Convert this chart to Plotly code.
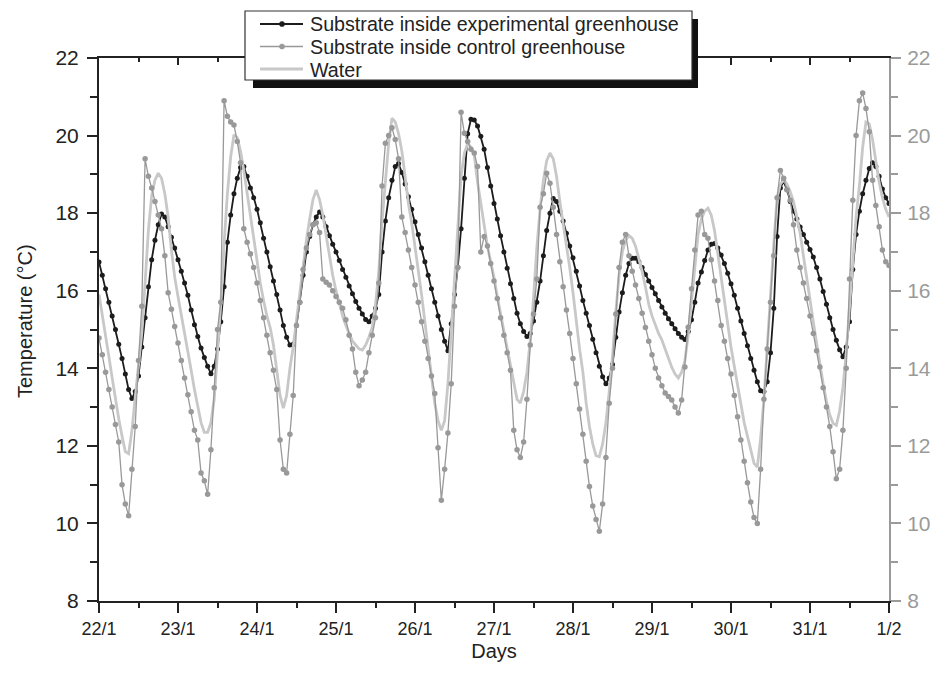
import plotly.graph_objects as go

# ---------------- data (hourly readings, °C) ----------------
day_labels = ["22/1", "23/1", "24/1", "25/1", "26/1", "27/1", "28/1", "29/1", "30/1", "31/1", "1/2"]
series_names = ["Substrate inside experimental greenhouse",
                "Substrate inside control greenhouse",
                "Water"]
sample_step_hours = 1

experimental = [
    16.74, 16.40, 16.05, 15.70, 15.35, 15.00, 14.62, 14.25, 13.85, 13.45, 13.22, 13.40, 13.80, 14.55, 15.30, 16.10, 16.80, 17.30, 17.70, 17.98, 17.90, 17.65, 17.38, 17.10,
    16.80, 16.50, 16.20, 15.88, 15.50, 15.12, 14.82, 14.52, 14.28, 14.05, 13.86, 14.05, 14.50, 15.20, 16.10, 17.25, 17.95, 18.50, 18.90, 19.18, 19.20, 18.95, 18.65, 18.40,
    18.10, 17.75, 17.35, 17.00, 16.62, 16.25, 15.90, 15.50, 15.10, 14.80, 14.60, 14.62, 15.10, 15.70, 16.40, 17.00, 17.40, 17.70, 17.90, 18.03, 17.90, 17.65, 17.42, 17.20,
    17.00, 16.78, 16.55, 16.35, 16.12, 15.92, 15.72, 15.55, 15.40, 15.26, 15.20, 15.35, 15.55, 15.90, 17.00, 17.80, 18.40, 18.85, 19.20, 19.28, 19.05, 18.75, 18.42, 18.10,
    17.78, 17.45, 17.10, 16.75, 16.40, 16.05, 15.70, 15.35, 15.00, 14.70, 14.45, 15.15, 15.90, 16.60, 17.60, 18.90, 20.05, 20.42, 20.40, 20.25, 19.98, 19.65, 19.18, 18.70,
    18.25, 17.85, 17.42, 17.00, 16.58, 16.18, 15.80, 15.42, 15.15, 14.95, 14.82, 14.90, 15.22, 15.70, 16.25, 16.90, 17.55, 18.00, 18.38, 18.30, 18.05, 17.80, 17.48, 17.15,
    16.85, 16.50, 16.12, 15.75, 15.42, 15.10, 14.75, 14.40, 14.05, 13.78, 13.60, 13.75, 14.10, 14.80, 15.45, 15.95, 16.40, 16.70, 16.84, 16.84, 16.75, 16.60, 16.42, 16.25,
    16.08, 15.92, 15.75, 15.58, 15.42, 15.28, 15.15, 15.02, 14.90, 14.80, 14.74, 14.95, 15.25, 15.70, 16.20, 16.48, 16.78, 17.05, 17.20, 17.22, 17.10, 16.92, 16.70, 16.45,
    16.18, 15.88, 15.55, 15.22, 14.90, 14.58, 14.25, 13.95, 13.65, 13.42, 13.40, 13.65, 14.40, 15.55, 17.40, 18.65, 18.82, 18.60, 18.30, 18.05, 17.85, 17.64, 17.45, 17.25,
    17.06, 16.87, 16.60, 16.30, 15.98, 15.65, 15.30, 15.00, 14.72, 14.48, 14.30, 14.55, 15.20, 16.55, 17.45, 18.05, 18.50, 18.85, 19.15, 19.30, 19.20, 18.95, 18.62, 18.40,
    18.25,
]

control = [
    14.78, 14.35, 13.90, 13.45, 13.00, 12.55, 12.10, 11.00, 10.50, 10.20, 11.40, 12.50, 14.20, 15.60, 19.40, 18.95, 18.65, 18.30, 17.95, 17.60, 16.90, 15.95, 15.52, 15.08,
    14.65, 14.20, 13.75, 13.32, 12.88, 12.40, 12.15, 11.30, 11.10, 10.75, 11.90, 13.50, 15.00, 15.70, 20.90, 20.50, 20.35, 20.27, 19.85, 19.30, 17.60, 17.25, 16.95, 16.60,
    16.20, 15.75, 15.30, 14.85, 14.40, 13.95, 13.45, 12.15, 11.40, 11.30, 12.30, 13.30, 15.10, 15.70, 16.55, 17.10, 17.45, 17.70, 17.75, 17.50, 16.30, 16.22, 16.15, 16.00,
    15.85, 15.70, 15.55, 15.25, 14.85, 14.50, 13.90, 13.55, 13.70, 13.90, 14.40, 14.85, 15.30, 16.20, 18.70, 19.80, 20.00, 20.20, 19.90, 19.40, 17.90, 17.50, 17.05, 16.60,
    16.15, 15.70, 15.20, 14.70, 14.25, 13.80, 13.35, 11.95, 10.60, 11.40, 12.33, 13.60, 15.60, 16.60, 20.60, 20.06, 19.85, 19.65, 19.55, 19.20, 17.00, 17.40, 17.15, 16.70,
    16.25, 15.80, 15.30, 14.85, 14.40, 13.95, 12.40, 11.90, 11.70, 12.10, 13.20, 14.60, 15.40, 16.30, 18.15, 18.50, 19.03, 18.77, 18.15, 17.45, 16.75, 16.10, 15.50, 14.90,
    14.25, 13.60, 12.95, 12.30, 11.60, 10.95, 10.45, 10.10, 9.80, 10.50, 11.70, 13.10, 14.00, 15.40, 16.60, 17.25, 17.45, 16.90, 16.50, 16.15, 15.80, 15.42, 15.05, 14.70,
    14.35, 14.00, 13.75, 13.55, 13.36, 13.27, 13.18, 13.00, 12.85, 13.18, 14.03, 15.06, 16.05, 17.05, 17.95, 18.05, 17.45, 17.35, 16.80, 16.25, 15.75, 15.10, 14.70, 14.25,
    13.85, 13.30, 12.75, 12.15, 11.60, 11.05, 10.55, 10.15, 10.00, 11.40, 13.20, 14.50, 15.70, 16.90, 18.40, 19.10, 18.90, 18.60, 18.33, 17.70, 17.05, 16.60, 16.20, 15.80,
    15.35, 14.90, 14.45, 14.03, 13.50, 13.00, 12.50, 11.85, 11.15, 11.40, 12.40, 14.00, 16.30, 18.33, 20.00, 20.90, 21.10, 20.70, 20.10, 18.85, 18.20, 17.65, 17.05, 16.75,
    16.65,
]

water = [
    15.90, 15.40, 14.85, 14.30, 13.75, 13.20, 12.70, 12.25, 11.85, 11.80, 12.40, 13.25, 14.05, 14.90, 16.20, 17.55, 18.45, 18.85, 19.03, 18.90, 18.50, 17.90, 17.05, 16.35,
    15.85, 15.40, 14.95, 14.45, 13.95, 13.45, 13.00, 12.60, 12.35, 12.35, 12.60, 13.20, 14.40, 15.65, 17.20, 18.50, 19.45, 20.02, 19.95, 19.60, 19.10, 18.50, 17.90, 17.30,
    16.75, 16.20, 15.75, 15.35, 15.05, 14.60, 13.95, 13.30, 12.97, 13.30, 14.00, 14.55, 15.25, 15.95, 16.65, 17.30, 17.85, 18.35, 18.60, 18.35, 17.95, 17.40, 16.90, 16.40,
    16.00, 15.65, 15.35, 15.10, 14.90, 14.70, 14.60, 14.50, 14.47, 14.60, 14.80, 15.05, 15.65, 16.50, 17.80, 18.90, 19.80, 20.45, 20.35, 20.05, 19.60, 18.95, 18.25, 17.75,
    17.15, 16.55, 15.90, 15.20, 14.55, 13.80, 13.10, 12.65, 12.40, 12.65, 13.60, 14.90, 16.40, 17.60, 18.95, 19.55, 19.80, 19.70, 19.48, 18.80, 18.20, 17.70, 17.15, 16.75,
    16.35, 15.85, 15.40, 15.00, 14.50, 14.00, 13.55, 13.20, 13.10, 13.40, 13.90, 14.70, 15.80, 17.10, 18.10, 18.85, 19.35, 19.55, 19.40, 18.95, 18.30, 17.75, 17.20, 16.60,
    15.95, 15.20, 14.50, 13.90, 13.10, 12.50, 12.05, 11.75, 11.72, 12.05, 12.60, 13.40, 14.30, 15.45, 16.40, 17.00, 17.30, 17.42, 17.35, 17.15, 16.85, 16.50, 16.10, 15.65,
    15.35, 15.10, 14.90, 14.73, 14.50, 14.25, 14.03, 13.85, 13.75, 13.90, 14.20, 14.85, 15.70, 16.60, 17.45, 17.85, 18.05, 18.13, 17.95, 17.55, 16.95, 16.35, 15.70, 15.10,
    14.55, 14.05, 13.55, 13.05, 12.60, 12.25, 11.90, 11.55, 11.45, 12.20, 13.20, 14.60, 15.90, 17.20, 18.40, 18.75, 18.85, 18.75, 18.55, 18.30, 17.90, 17.48, 16.90, 16.30,
    15.76, 15.20, 14.65, 14.10, 13.60, 13.15, 12.80, 12.58, 12.53, 12.90, 13.50, 14.40, 15.60, 16.80, 17.90, 18.70, 19.70, 20.35, 20.30, 19.90, 19.30, 18.80, 18.40, 18.10,
    17.90,
]


def days_axis(values):
    return [i * sample_step_hours / 24.0 for i in range(len(values))]


FONT = "Liberation Sans, Arial, Helvetica, sans-serif"
BLACK = "#1c1c1c"
CTRL = "#999999"
WATER = "#c8c8c8"
AXIS_GRAY = "#9a9a9a"
TXT = "#222222"

# plot-area geometry in pixels (used only to place the legend box and titles)
PX_L, PX_R, PX_T, PX_B = 99, 889, 58, 601


def px(xp):
    return (xp - PX_L) / (PX_R - PX_L)


def py(yp):
    return (PX_B - yp) / (PX_B - PX_T)


fig = go.Figure()

fig.add_trace(go.Scatter(
    x=days_axis(experimental), y=experimental, name=series_names[0],
    mode="lines+markers", line=dict(color=BLACK, width=1.8),
    marker=dict(color=BLACK, size=5)))

fig.add_trace(go.Scatter(
    x=days_axis(water), y=water, name=series_names[2],
    mode="lines", line=dict(color=WATER, width=2.8)))

fig.add_trace(go.Scatter(
    x=days_axis(control), y=control, name=series_names[1],
    mode="lines+markers", line=dict(color=CTRL, width=1.3),
    marker=dict(color=CTRL, size=5.5)))

# helper trace so the top and right axes exist
fig.add_trace(go.Scatter(x=[None], y=[None], xaxis="x2", yaxis="y2",
                         showlegend=False, hoverinfo="skip"))

major_x = list(range(len(day_labels)))
minor_x = [i + 0.5 for i in range(len(day_labels) - 1)]

# ---------------- legend box (drawn like the original, with a drop shadow) ----------------
shapes = [
    dict(type="rect", xref="paper", yref="paper", layer="above",
         x0=px(253), x1=px(698), y0=py(88), y1=py(19),
         fillcolor="#111111", line=dict(width=0)),
    dict(type="rect", xref="paper", yref="paper", layer="above",
         x0=px(245), x1=px(692), y0=py(80), y1=py(11),
         fillcolor="white", line=dict(color="#333333", width=1.2)),
]
legend_rows = [(24, BLACK, 1.8, True), (46.5, CTRL, 1.3, True), (69, WATER, 2.8, False)]
annotations = []
for (yrow, col, lw, mk), name in zip(legend_rows, series_names):
    shapes.append(dict(type="line", xref="paper", yref="paper", layer="above",
                       x0=px(260), x1=px(303), y0=py(yrow), y1=py(yrow),
                       line=dict(color=col, width=lw)))
    if mk:
        r = 2.6
        shapes.append(dict(type="circle", xref="paper", yref="paper", layer="above",
                           x0=px(282 - r), x1=px(282 + r), y0=py(yrow + r), y1=py(yrow - r),
                           fillcolor=col, line=dict(color=col, width=0.5)))
    annotations.append(dict(text=name, xref="paper", yref="paper",
                            x=px(308), y=py(yrow + 0.5), xanchor="left", yanchor="middle",
                            showarrow=False, font=dict(size=19.7, color=TXT, family=FONT)))

# y-axis title, placed where the original has it
annotations.append(dict(text="Temperature (°C)", xref="paper", yref="paper",
                        x=px(25), y=py(321), xanchor="center", yanchor="middle",
                        textangle=-90, showarrow=False,
                        font=dict(size=20, color=TXT, family=FONT)))

fig.update_layout(
    width=935, height=687,
    margin=dict(l=PX_L, r=935 - PX_R, t=PX_T, b=687 - PX_B),
    paper_bgcolor="white", plot_bgcolor="white",
    font=dict(family=FONT, color=TXT),
    showlegend=False,
    xaxis=dict(range=[0, 10], tickmode="array", tickvals=major_x, ticktext=day_labels,
               ticks="outside", ticklen=10, tickwidth=1.5, tickcolor=TXT,
               showline=True, linecolor=TXT, linewidth=2, automargin=False,
               showgrid=False, zeroline=False, tickfont=dict(size=18),
               minor=dict(tickmode="array", tickvals=minor_x, ticks="outside",
                          ticklen=5, tickwidth=1.5, tickcolor=TXT, showgrid=False),
               title=dict(text="Days", font=dict(size=20), standoff=6)),
    xaxis2=dict(range=[0, 10], overlaying="x", side="top", tickmode="array",
                tickvals=major_x, ticks="inside", ticklen=7, tickwidth=1.5,
                tickcolor=TXT, showticklabels=False, showline=True, automargin=False,
                linecolor=TXT, linewidth=2, showgrid=False, zeroline=False,
                minor=dict(tickmode="array", tickvals=minor_x, ticks="inside",
                           ticklen=4, tickwidth=1.5, tickcolor=TXT, showgrid=False)),
    yaxis=dict(range=[8, 22], tick0=8, dtick=2, ticks="outside", ticklen=10, tickwidth=1.5,
               tickcolor=TXT, showline=True, linecolor=TXT, linewidth=2, automargin=False,
               showgrid=False, zeroline=False, tickfont=dict(size=21), ticklabelstandoff=4,
               minor=dict(dtick=1, ticks="outside", ticklen=7, tickwidth=1.5,
                          tickcolor=TXT, showgrid=False)),
    yaxis2=dict(range=[8, 22], tick0=8, dtick=2, overlaying="y", side="right",
                ticks="outside", ticklen=10, tickwidth=1.5, tickcolor=AXIS_GRAY,
                showline=True, linecolor=AXIS_GRAY, linewidth=2, showgrid=False,
                zeroline=False, tickfont=dict(size=21, color=AXIS_GRAY), ticklabelstandoff=2,
                automargin=False,
                minor=dict(dtick=1, ticks="outside", ticklen=7, tickwidth=1.5,
                           tickcolor=AXIS_GRAY, showgrid=False)),
    shapes=shapes,
    annotations=annotations,
)

fig.write_html("out.html")
